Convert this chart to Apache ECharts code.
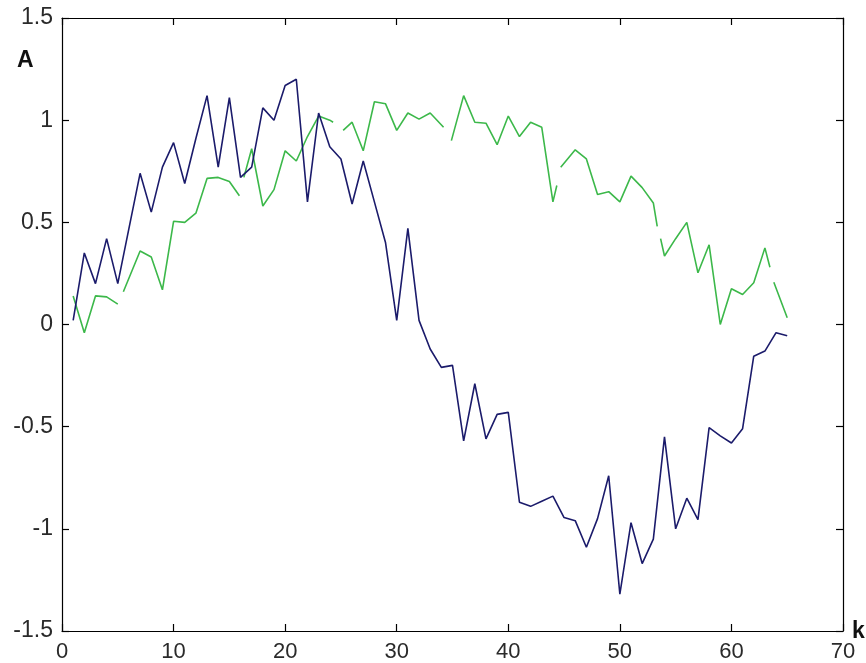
<!DOCTYPE html>
<html>
<head>
<meta charset="utf-8">
<script src="https://cdn.jsdelivr.net/npm/echarts@6/dist/echarts.min.js"></script>
<style>
html,body{margin:0;padding:0;background:#fff;}
#c{width:866px;height:663px;}
</style>
</head>
<body>
<div id="c"></div>
<script>
// ---- data ----
var blueK = [1,2,3,4,5,6,7,8,9,10,11,12,13,14,15,16,17,18,19,20,21,22,23,24,25,26,27,28,29,30,31,32,33,34,35,36,37,38,39,40,41,42,43,44,45,46,47,48,49,50,51,52,53,54,55,56,57,58,59,60,61,62,63,64,65];
var blueA = [0.02,0.35,0.20,0.42,0.20,0.47,0.74,0.55,0.77,0.89,0.69,0.91,1.12,0.77,1.11,0.72,0.77,1.06,1.00,1.17,1.20,0.60,1.035,0.87,0.81,0.59,0.80,0.60,0.40,0.02,0.47,0.02,-0.12,-0.21,-0.20,-0.57,-0.29,-0.56,-0.44,-0.43,-0.87,-0.89,-0.865,-0.84,-0.945,-0.96,-1.09,-0.95,-0.74,-1.32,-0.97,-1.17,-1.05,-0.55,-1.00,-0.85,-0.955,-0.505,-0.545,-0.58,-0.51,-0.155,-0.13,-0.04,-0.055];

// green curve: null marks a break in the drawn line
var greenK = [1,2,3,4,5,null,5.5,7,8,9,10,11,12,13,14,15,15.9,null,16.3,17,18,19,20,21,22,23,24,24.3,null,25.2,26,27,28,29,30,31,32,33,34.2,null,34.9,36,37,38,39,40,41,42,43,44,44.35,null,44.7,46,47,48,49,50,51,52,53,53.35,null,53.65,54,55,56,57,58,59,60,61,62,63,63.45,null,63.8,65];
var greenA = [0.14,-0.04,0.14,0.135,0.10,null,0.16,0.36,0.33,0.17,0.505,0.50,0.545,0.715,0.72,0.70,0.63,null,0.72,0.86,0.58,0.66,0.85,0.80,0.92,1.02,1.00,0.99,null,0.95,0.99,0.85,1.09,1.08,0.95,1.035,1.005,1.035,0.965,null,0.90,1.12,0.99,0.985,0.88,1.02,0.92,0.99,0.965,0.60,0.68,null,0.77,0.855,0.81,0.636,0.65,0.60,0.726,0.67,0.595,0.48,null,0.42,0.335,0.42,0.50,0.253,0.39,0.0,0.175,0.147,0.204,0.375,0.28,null,0.207,0.033];

var xTicks = [0,10,20,30,40,50,60,70];
var yTicks = [-1.5,-1,-0.5,0,0.5,1,1.5];

// ---- build ----
var blueData = blueK.map(function(k,i){ return [k, blueA[i]]; });
var greenData = greenK.map(function(k,i){ return k === null ? ['-','-'] : [k, greenA[i]]; });

var font = '"Liberation Sans", Arial, sans-serif';
var axisLine = {show:true, onZero:false, lineStyle:{color:'#000', width:1.2}};
var tick = {show:true, inside:true, length:7, lineStyle:{color:'#000', width:1.2}};

var chart = echarts.init(document.getElementById('c'), null, {renderer:'canvas'});
chart.setOption({
  animation:false,
  backgroundColor:'#fff',
  grid:{left:62, right:23, top:18, bottom:31, containLabel:false},
  xAxis:[
    {type:'value', min:xTicks[0], max:xTicks[xTicks.length-1], interval:10, position:'bottom',
     axisLine:axisLine, axisTick:tick, splitLine:{show:false},
     axisLabel:{margin:10, color:'#2a2a2a', fontFamily:font, fontSize:22,
       formatter:function(v){return String(v);}}},
    {type:'value', min:xTicks[0], max:xTicks[xTicks.length-1], interval:10, position:'top',
     axisLine:axisLine, axisTick:tick, splitLine:{show:false}, axisLabel:{show:false}}
  ],
  yAxis:[
    {type:'value', min:yTicks[0], max:yTicks[yTicks.length-1], interval:0.5, position:'left',
     axisLine:axisLine, axisTick:tick, splitLine:{show:false},
     axisLabel:{margin:9, color:'#2a2a2a', fontFamily:font, fontSize:23,
       formatter:function(v){return String(v);}}},
    {type:'value', min:yTicks[0], max:yTicks[yTicks.length-1], interval:0.5, position:'right',
     axisLine:axisLine, axisTick:tick, splitLine:{show:false}, axisLabel:{show:false}}
  ],
  graphic:[
    {type:'text', left:17, top:49, style:{text:'A', font:'bold 23px '+font, fill:'#111'}},
    {type:'text', left:852, top:620, style:{text:'k', font:'bold 23px '+font, fill:'#111'}}
  ],
  series:[
    {type:'line', name:'green', data:greenData, showSymbol:false, connectNulls:false,
     lineStyle:{color:'#3cb84a', width:1.6}, itemStyle:{color:'#3cb84a'}, z:2},
    {type:'line', name:'blue', data:blueData, showSymbol:false,
     lineStyle:{color:'#1b1b6b', width:1.6}, itemStyle:{color:'#1b1b6b'}, z:3}
  ]
});
</script>
</body>
</html>
